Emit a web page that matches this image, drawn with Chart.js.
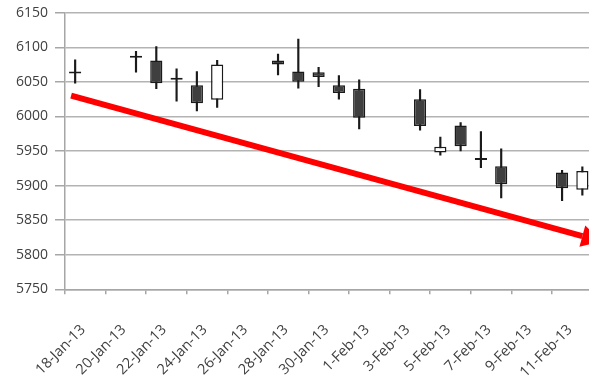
<!DOCTYPE html>
<html>
<head>
<meta charset="utf-8">
<script src="https://cdn.jsdelivr.net/npm/chart.js@4.4.1/dist/chart.umd.min.js"></script>
<style>
  html, body { margin: 0; padding: 0; background: #ffffff; overflow: hidden; width: 589px; height: 379px; }
  canvas { display: block; }
</style>
</head>
<body>
<canvas id="chart" width="600" height="379"></canvas>
<script>
// Calendar days on the date axis (weekends have no trading data)
const days = [
  '18-Jan-13', '19-Jan-13', '20-Jan-13', '21-Jan-13', '22-Jan-13', '23-Jan-13', '24-Jan-13',
  '25-Jan-13', '26-Jan-13', '27-Jan-13', '28-Jan-13', '29-Jan-13', '30-Jan-13', '31-Jan-13',
  '1-Feb-13', '2-Feb-13', '3-Feb-13', '4-Feb-13', '5-Feb-13', '6-Feb-13', '7-Feb-13',
  '8-Feb-13', '9-Feb-13', '10-Feb-13', '11-Feb-13', '12-Feb-13'
];

// Daily open / high / low / close
const open  = [6062, null, null, 6085, 6081, 6053, 6045, 6024, null, null, 6081, 6065, 6064, 6045,
               6040, null, null, 6025, 5948, 5987, 5937, 5928, null, null, 5919, 5894];
const high  = [6082, null, null, 6094, 6101, 6069, 6065, 6081, null, null, 6090, 6112, 6071, 6059,
               6053, null, null, 6039, 5970, 5991, 5978, 5953, null, null, 5922, 5927];
const low   = [6048, null, null, 6064, 6040, 6022, 6008, 6013, null, null, 6060, 6041, 6043, 6025,
               5982, null, null, 5980, 5944, 5950, 5926, 5882, null, null, 5878, 5886];
const close = [6065, null, null, 6085, 6048, 6053, 6019, 6075, null, null, 6075, 6050, 6057, 6034,
               5998, null, null, 5986, 5956, 5957, 5937, 5902, null, null, 5896, 5921];

// Downtrend arrow: day offset from 18-Jan-13 and index level
const trendDay   = [-0.2, 25];
const trendValue = [6030, 5827];

// Value axis range
const yMin = 5750;
const yMax = 6150;
const yStep = 50;

const AXIS_GRAY = '#a6a6a6';
const TEXT_GRAY = '#404040';
const CANDLE_EDGE = '#1a1a1a';
const FONT_Y = { family: "'Open Sans', sans-serif", size: 14 };
const FONT_X = { family: "'Open Sans', sans-serif", size: 14.5 };

const wickData = days.map((d, i) => high[i] == null ? null : [low[i], high[i]]);
const bodyData = days.map((d, i) => open[i] == null ? null : [open[i], close[i]]);
const bodyFill = days.map((d, i) => (close[i] != null && close[i] > open[i]) ? '#ffffff' : '#3f3f3f');
const trendData = trendDay.map((d, i) => ({ x: d, y: trendValue[i] }));

// Filled arrowhead placed at the last point of the trend line
const arrowHead = {
  id: 'arrowHead',
  afterDatasetsDraw(chart) {
    const meta = chart.getDatasetMeta(2);
    const pts = meta.data;
    if (!pts || pts.length < 2) return;
    const a = pts[pts.length - 2];
    const b = pts[pts.length - 1];
    const ang = Math.atan2(b.y - a.y, b.x - a.x);
    const len = 20, half = 11;
    const ctx = chart.ctx;
    ctx.save();
    ctx.translate(b.x, b.y);
    ctx.rotate(ang);
    ctx.beginPath();
    ctx.moveTo(len, 0);
    ctx.lineTo(0, -half);
    ctx.lineTo(0, half);
    ctx.closePath();
    ctx.fillStyle = '#ff0000';
    ctx.fill();
    ctx.restore();
  }
};

// Keep the plot area edges fixed regardless of label overhang
function noOverhang(s) {
  s.paddingLeft = 0;
  s.paddingRight = 0;
  s.paddingTop = 0;
  s.paddingBottom = 0;
}

new Chart(document.getElementById('chart'), {
  type: 'bar',
  data: {
    labels: days,
    datasets: [
      {
        label: 'High-Low',
        data: wickData,
        backgroundColor: CANDLE_EDGE,
        barThickness: 1.5,
        grouped: false,
        order: 3,
        xAxisID: 'x'
      },
      {
        label: 'Open-Close',
        data: bodyData,
        backgroundColor: bodyFill,
        borderColor: CANDLE_EDGE,
        borderWidth: 1.5,
        borderSkipped: false,
        barPercentage: 0.6,
        categoryPercentage: 1,
        minBarLength: 2,
        grouped: false,
        order: 2,
        xAxisID: 'x'
      },
      {
        type: 'line',
        label: 'Trend',
        data: trendData,
        xAxisID: 'xt',
        borderColor: '#ff0000',
        borderWidth: 6,
        borderCapStyle: 'butt',
        pointRadius: 0,
        fill: false,
        order: 1
      }
    ]
  },
  options: {
    responsive: false,
    animation: false,
    devicePixelRatio: 1,
    layout: { padding: { top: 12.7, right: 7.5, left: 0, bottom: 0 } },
    plugins: {
      legend: { display: false },
      tooltip: { enabled: false }
    },
    scales: {
      x: {
        type: 'category',
        offset: true,
        grid: {
          offset: true,
          drawOnChartArea: false,
          drawTicks: true,
          tickLength: 5,
          lineWidth: 1.5,
          tickColor: (ctx) => (ctx.index !== undefined && ctx.index % 2 === 0) ? AXIS_GRAY : 'rgba(0,0,0,0)'
        },
        border: { display: true, color: AXIS_GRAY, width: 1.5 },
        ticks: {
          autoSkip: false,
          minRotation: 45,
          maxRotation: 45,
          padding: 27,
          labelOffset: 8,
          color: TEXT_GRAY,
          font: FONT_X,
          callback: (v, i) => i % 2 === 0 ? days[i] : ''
        },
        afterFit: (s) => { s.height = 89.7; noOverhang(s); }
      },
      xt: {
        type: 'linear',
        display: false,
        offset: false,
        min: -0.5,
        max: 25.5,
        grid: { offset: false },
        afterFit: noOverhang
      },
      y: {
        min: yMin,
        max: yMax,
        ticks: {
          stepSize: yStep,
          padding: 7,
          color: TEXT_GRAY,
          font: FONT_Y,
          callback: (v) => String(v)
        },
        grid: {
          color: '#b3b3b3',
          lineWidth: 1.5,
          tickLength: 10,
          tickColor: AXIS_GRAY
        },
        border: { display: true, color: AXIS_GRAY, width: 1.5 },
        afterFit: (s) => { s.width = 65; noOverhang(s); }
      }
    }
  },
  plugins: [arrowHead]
});
</script>
</body>
</html>
